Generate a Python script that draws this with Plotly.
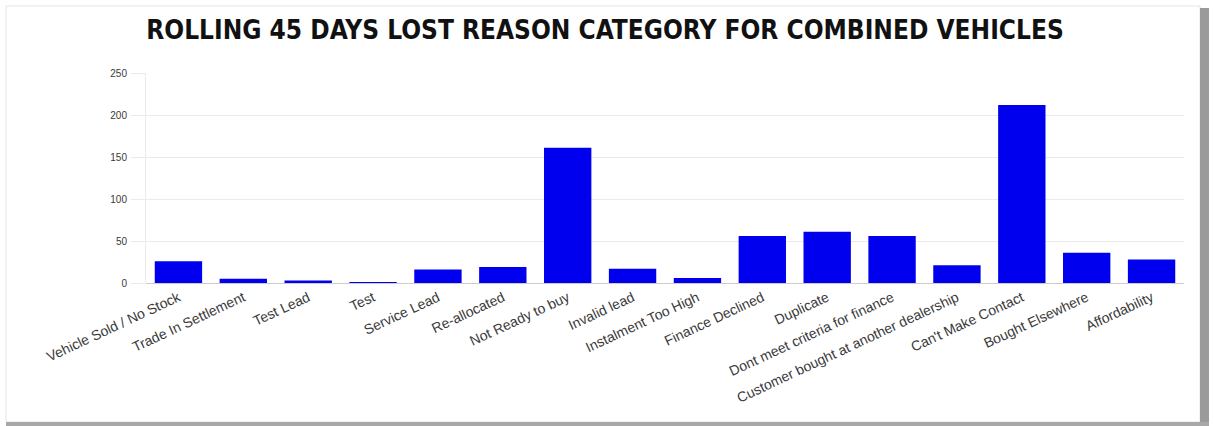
import plotly.graph_objects as go

categories = ["Vehicle Sold / No Stock", "Trade In Settlement", "Test Lead", "Test",
              "Service Lead", "Re-allocated", "Not Ready to buy", "Invalid lead",
              "Instalment Too High", "Finance Declined", "Duplicate",
              "Dont meet criteria for finance", "Customer bought at another dealership",
              "Can't Make Contact", "Bought Elsewhere", "Affordability"]
values = [26, 5, 3, 1, 16, 19, 161, 17, 6, 56, 61, 56, 21, 212, 36, 28]
y_ticks = [0, 50, 100, 150, 200, 250]
title_text = "ROLLING 45 DAYS LOST REASON CATEGORY FOR COMBINED VEHICLES"

W, H = 1214, 426
L, R, T, B = 146, 30, 73, 143
pw, ph = W - L - R, H - T - B

def px(x):
    return (x - L) / pw

def py(y):
    return (H - B - y) / ph

fig = go.Figure(go.Bar(x=categories, y=values, marker=dict(color="#0000EE", line=dict(width=0))))

shapes = [
    dict(type="rect", xref="paper", yref="paper", x0=px(6), x1=px(1200), y0=py(422), y1=py(6),
         line=dict(color="#e4e4e4", width=1), fillcolor="rgba(0,0,0,0)", layer="below"),
    dict(type="rect", xref="paper", yref="paper", x0=px(1200), x1=px(1209), y0=py(426), y1=py(8),
         line=dict(width=0), fillcolor="#9a9a9a", layer="below"),
    dict(type="rect", xref="paper", yref="paper", x0=px(6), x1=px(1209), y0=py(426), y1=py(422),
         line=dict(width=0), fillcolor="#a8a8a8", layer="below"),
]

fig.update_layout(
    width=W, height=H,
    margin=dict(l=L, r=R, t=T, b=B),
    paper_bgcolor="white", plot_bgcolor="white",
    showlegend=False,
    bargap=0.27,
    shapes=shapes,
    title=dict(text="<b>" + title_text + "</b>", xref="container", yref="container",
               x=605 / W, xanchor="center", y=1 - 30 / H, yanchor="middle",
               font=dict(family="DejaVu Sans Condensed", size=26, color="#111111")),
    xaxis=dict(tickangle=-25, tickfont=dict(family="Liberation Sans", size=14, color="#3a3a3a"),
               showgrid=False, showline=False, ticks="", ticklabelstandoff=3),
    yaxis=dict(range=[0, 250], tickvals=y_ticks, gridcolor="#ebebeb", gridwidth=1,
               zeroline=True, zerolinecolor="#cccccc", zerolinewidth=1,
               showline=True, linecolor="#ebebeb", linewidth=1,
               ticks="outside", ticklen=14, tickcolor="#ebebeb", ticklabelstandoff=2,
               tickfont=dict(family="Liberation Sans", size=10, color="#3a3a3a")),
)

fig.write_html("out.html")
